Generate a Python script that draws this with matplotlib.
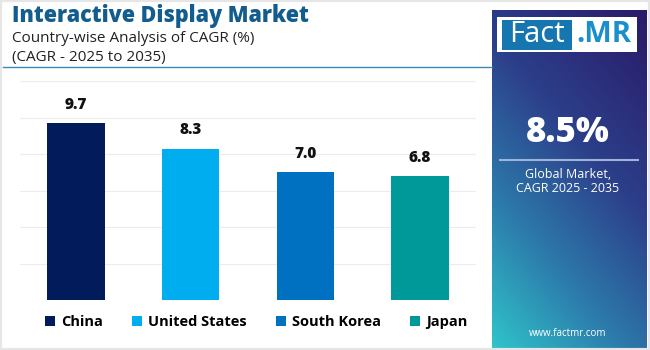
import numpy as np
import matplotlib
matplotlib.use('Agg')
import matplotlib.pyplot as plt
from matplotlib.patches import Patch, Rectangle
from matplotlib.colors import LinearSegmentedColormap

# Data
countries = ['China', 'United States', 'South Korea', 'Japan']
cagr = [9.7, 8.3, 7.0, 6.8]
bar_colors = ['#021c5b', '#00aeef', '#0070c0', '#00999a']
global_cagr = '8.5%'

plt.rcParams['font.family'] = ['Open Sans', 'DejaVu Sans']

fig = plt.figure(figsize=(6.5, 3.5), dpi=100)
fig.patch.set_facecolor('white')

# light frame around the card
fig.add_artist(Rectangle((0, 0), 1, 1, transform=fig.transFigure,
                         facecolor='none', edgecolor='#e6e6e6', lw=3))

# Right side gradient panel
px0, px1 = 492 / 650, 647 / 650
py0, py1 = 0, 1 - 10 / 350
pax = fig.add_axes([px0, py0, px1 - px0, py1 - py0])
ny, nx = 200, 100
yy, xx = np.mgrid[0:1:ny * 1j, 0:1:nx * 1j]  # yy 0 at top
s = 0.85 * yy + 0.45 * (1 - xx)
s = (s - s.min()) / (s.max() - s.min())
cmap = LinearSegmentedColormap.from_list(
    'panel', [(0, '#2a1a68'), (0.4, '#2c3f8a'), (0.7, '#2c7aab'), (1, '#30c4ca')])
pax.imshow(s, cmap=cmap, aspect='auto', extent=[0, 1, 0, 1], origin='upper')
pax.set_xlim(0, 1)
pax.set_ylim(0, 1)
pax.axis('off')

# Logo
fig.add_artist(Rectangle((497 / 650, 1 - 52 / 350), 140 / 650, 35 / 350,
                         transform=fig.transFigure, facecolor='white', lw=0))
fig.add_artist(Rectangle((502 / 650, 1 - 50 / 350), 70 / 650, 30 / 350,
                         transform=fig.transFigure, facecolor='#1677b0', lw=0))
fig.text(537 / 650, 1 - 35 / 350, 'Fact', color='white', fontsize=21,
         ha='center', va='center')
fig.text(604 / 650, 1 - 35 / 350, '.MR', color='#1a8fcc', fontsize=21,
         fontweight='bold', ha='center', va='center')

fig.text(568 / 650, 1 - 133 / 350, global_cagr, color='white', fontsize=25,
         fontweight='heavy', ha='center', va='center')
fig.add_artist(plt.Line2D([500 / 650, 638 / 650], [1 - 160 / 350, 1 - 160 / 350],
                          transform=fig.transFigure, color='#9fb3d9', lw=1.5))
fig.text(568 / 650, 1 - 174 / 350, 'Global Market,', color='white', fontsize=9,
         ha='center', va='center')
fig.text(568 / 650, 1 - 189 / 350, 'CAGR 2025 - 2035', color='white', fontsize=9,
         ha='center', va='center')
fig.text(568 / 650, 1 - 334 / 350, 'www.factmr.com', color='white', fontsize=7,
         ha='center', va='center')

# Titles
fig.text(12 / 650, 1 - 16 / 350, 'Interactive Display Market', color='#135d8e',
         fontsize=15.5, fontweight='heavy', ha='left', va='center')
fig.text(12 / 650, 1 - 38 / 350, 'Country-wise Analysis of CAGR (%)', color='#222222',
         fontsize=11, ha='left', va='center')
fig.text(12 / 650, 1 - 57 / 350, '(CAGR - 2025 to 2035)', color='#222222',
         fontsize=11, ha='left', va='center')
fig.add_artist(plt.Line2D([3 / 650, 492 / 650], [1 - 67 / 350, 1 - 67 / 350],
                          transform=fig.transFigure, color='#3f86b8', lw=1))

# Bar chart
ax = fig.add_axes([20 / 650, 50 / 350, 456 / 650, 219 / 350])
x = np.arange(len(countries))
ax.bar(x, cagr, width=0.5, color=bar_colors, zorder=3)
for xi, v in zip(x, cagr):
    ax.text(xi, v + 0.55, f'{v:.1f}', ha='center', va='bottom', fontsize=11,
            fontweight='heavy', color='#111111')
ax.set_xlim(-0.49, 3.49)
ax.set_ylim(0, 12)
ax.set_yticks(np.arange(0, 13, 2))
ax.yaxis.grid(True, color='#ececec', lw=0.8, zorder=0)
ax.set_xticks([])
ax.tick_params(left=False, labelleft=False)
for sp in ax.spines.values():
    sp.set_visible(False)

handles = [Patch(facecolor=c, label=n) for c, n in zip(bar_colors, countries)]
leg = fig.legend(handles=handles, loc='center', bbox_to_anchor=(256 / 650, 1 - 322 / 350),
                 ncol=4, frameon=False, handlelength=0.7, handleheight=0.7,
                 handletextpad=0.4, columnspacing=2.0,
                 prop={'weight': 'bold', 'size': 10.5})

fig.savefig('out.png', dpi=100)
